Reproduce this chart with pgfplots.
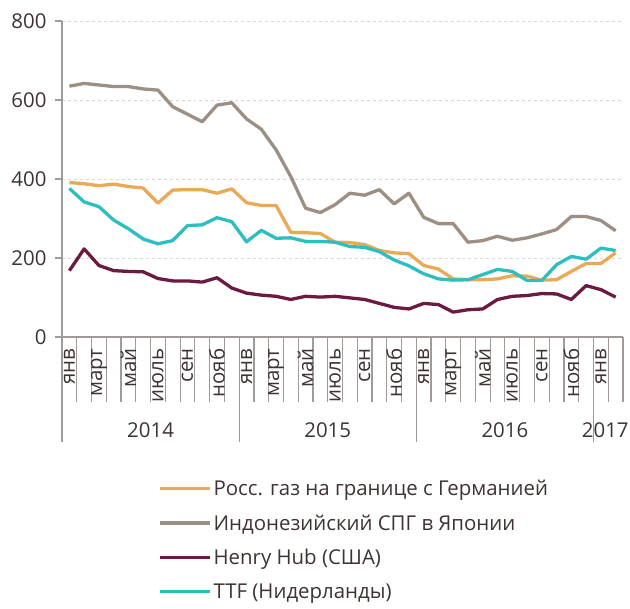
\documentclass[border=0pt]{standalone}
\usepackage{fontspec}
\setmainfont{Open Sans}
\usepackage{pgfplots}
\usepackage{pgfplotstable}
\pgfplotsset{compat=1.18}

\definecolor{ruorange}{HTML}{E9A957}
\definecolor{lnggray}{HTML}{9C8F84}
\definecolor{hhmaroon}{HTML}{6B1A42}
\definecolor{ttfteal}{HTML}{2DBFBF}
\definecolor{axisgray}{HTML}{A09A98}
\definecolor{gridgray}{HTML}{D8D8D8}
\definecolor{txt}{HTML}{3E3232}

% x = month index + 0.5 (Jan 2014 .. Feb 2017)
\pgfplotstableread{
x    ru   lng  hh   ttf
0.5  391  635  168  376
1.5  388  642  223  342
2.5  383  638  181  330
3.5  387  634  168  296
4.5  381  634  166  274
5.5  377  628  165  248
6.5  339  625  148  236
7.5  372  583  142  244
8.5  373  564  142  282
9.5  373  545  139  284
10.5 364  587  150  302
11.5 375  593  124  292
12.5 340  552  111  241
13.5 333  526  106  270
14.5 333  474  103  250
15.5 265  406   95  251
16.5 264  326  103  242
17.5 262  315  101  242
18.5 240  335  103  240
19.5 239  364   99  229
20.5 234  359   95  227
21.5 219  373   85  216
22.5 213  337   75  195
23.5 211  364   71  180
24.5 181  303   85  160
25.5 172  287   82  147
26.5 147  287   63  144
27.5 145  240   69  145
28.5 145  244   71  158
29.5 147  255   95  171
30.5 155  245  103  166
31.5 154  251  105  143
32.5 144  261  110  143
33.5 145  272  109  183
34.5 166  305   95  204
35.5 186  305  130  197
36.5 186  295  120  225
37.5 213  269  101  219
}\prices

\newcommand{\lab}{\fontsize{20.5}{24}\selectfont}

\begin{document}
\begin{tikzpicture}
\begin{axis}[
  scale only axis,
  width=561bp, height=316bp,
  xmin=0, xmax=38,
  ymin=0, ymax=800,
  axis lines=left,
  axis line style={-, draw=axisgray, line width=1.2bp},
  tick align=outside,
  tick style={draw=axisgray, line width=1.2bp},
  major tick length=0bp,
  ytick={0,200,...,800},
  ymajorgrids,
  grid style={dashed, gridgray, line width=0.7bp},
  xtick={0.5,2.5,...,36.5},
  xticklabels={янв,март,май,июль,сен,нояб,янв,март,май,июль,сен,нояб,янв,март,май,июль,сен,нояб,янв},
  minor xtick={0,...,38},
  minor tick length=65bp,
  xticklabel style={rotate=90, anchor=east},
  xticklabel shift=8bp,
  yticklabel shift=12bp,
  every tick label/.append style={font=\lab, text=txt},
  /pgf/number format/assume math mode=true,
  clip=false,
  legend cell align=left,
  legend style={at={(axis description cs:0.166,-0.440)}, anchor=north west,
    draw=none, fill=none, font=\lab, text=txt, row sep=13.5bp,
    nodes={inner sep=2bp}},
  legend image code/.code={\draw[#1] (0bp,0bp) -- (50bp,0bp);},
  every axis plot/.append style={line width=3.3bp, line join=round},
]
\addplot[ruorange] table[x=x, y=ru] {\prices};
\addlegendentry{Росс. газ на границе с Германией}
\addplot[lnggray] table[x=x, y=lng] {\prices};
\addlegendentry{Индонезийский СПГ в Японии}
\addplot[hhmaroon] table[x=x, y=hh] {\prices};
\addlegendentry{Henry Hub (США)}
\addplot[ttfteal] table[x=x, y=ttf] {\prices};
\addlegendentry{TTF (Нидерланды)}

% y tick marks
\draw[axisgray, line width=1.2bp] (axis cs:0,0) -- ++(-7bp,0);
\draw[axisgray, line width=1.2bp] (axis cs:0,200) -- ++(-7bp,0);
\draw[axisgray, line width=1.2bp] (axis cs:0,400) -- ++(-7bp,0);
\draw[axisgray, line width=1.2bp] (axis cs:0,600) -- ++(-7bp,0);
\draw[axisgray, line width=1.2bp] (axis cs:0,800) -- ++(-7bp,0);
% year separators and labels
\draw[axisgray, line width=1.2bp] (axis cs:0,0) -- ++(0,-105bp);
\draw[axisgray, line width=1.2bp] (axis cs:12,0) -- ++(0,-105bp);
\draw[axisgray, line width=1.2bp] (axis cs:24,0) -- ++(0,-105bp);
\draw[axisgray, line width=1.2bp] (axis cs:36,0) -- ++(0,-105bp);
\node[font=\lab, text=txt] at (axis cs:6,0) [yshift=-93bp] {2014};
\node[font=\lab, text=txt] at (axis cs:18,0) [yshift=-93bp] {2015};
\node[font=\lab, text=txt] at (axis cs:30,0) [yshift=-93bp] {2016};
\node[font=\lab, text=txt] at (axis cs:36.8,0) [yshift=-93bp] {2017};
\coordinate (bbsw) at (axis cs:0,0);
\coordinate (bbne) at (axis cs:38,800);
\end{axis}
\pgfresetboundingbox
\path[use as bounding box] ([shift={(-62bp,-272bp)}]bbsw) rectangle ([shift={(7bp,21bp)}]bbne);
\end{tikzpicture}
\end{document}
